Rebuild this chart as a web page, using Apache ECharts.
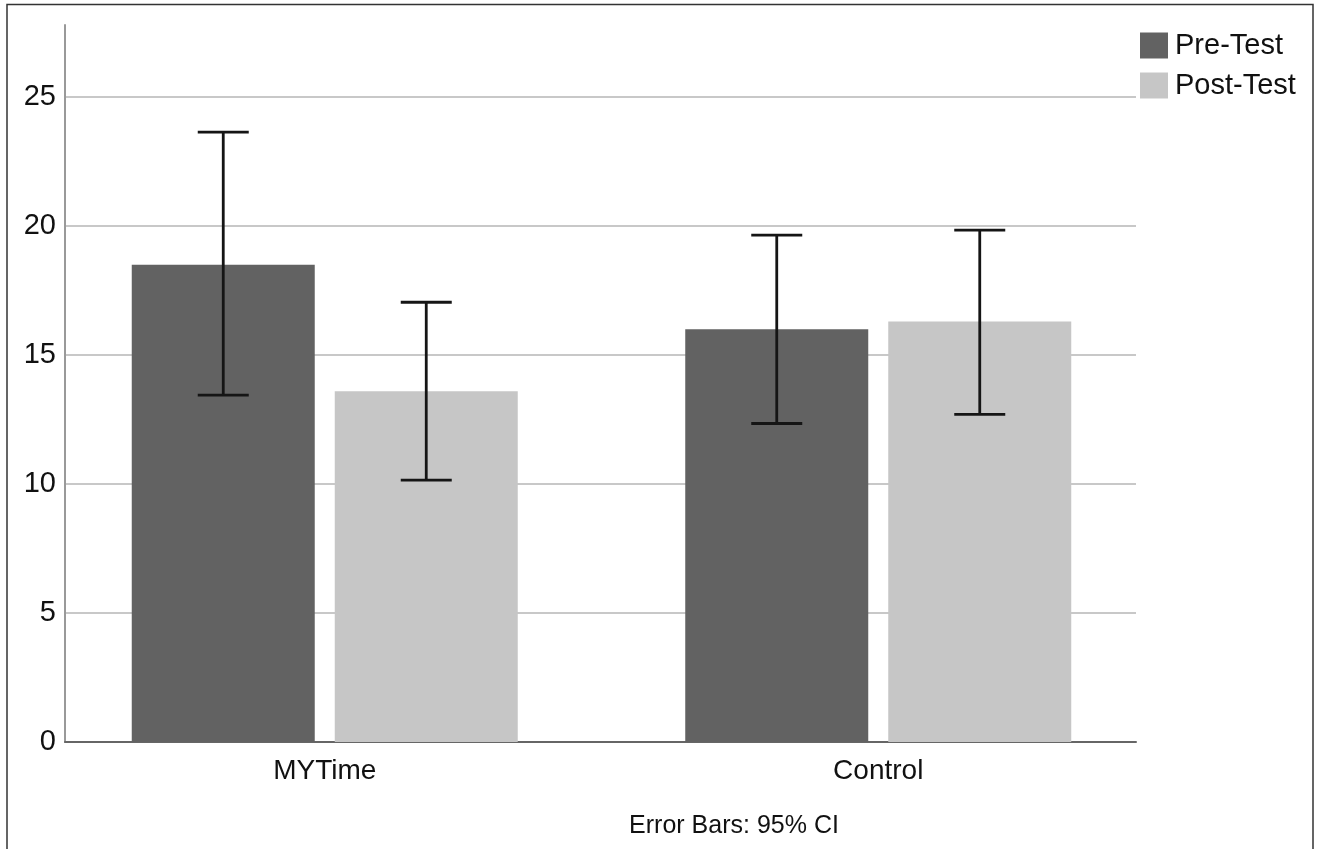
<!DOCTYPE html>
<html>
<head>
<meta charset="utf-8">
<script src="https://cdn.jsdelivr.net/npm/echarts@6/dist/echarts.min.js"></script>
<style>
  html, body { margin: 0; padding: 0; background: #ffffff; }
  #chart { width: 1317px; height: 849px; }
</style>
</head>
<body>
<div id="chart"></div>
<script>
// ---- data ----
const categories = ['MYTime', 'Control'];
const seriesNames = ['Pre-Test', 'Post-Test'];
const preMeans = [18.5, 16.0];
const postMeans = [13.6, 16.3];
const preCILow = [13.45, 12.35];
const preCIHigh = [23.65, 19.65];
const postCILow = [10.15, 12.7];
const postCIHigh = [17.05, 19.85];
const yTicks = [0, 5, 10, 15, 20, 25];
const footnote = 'Error Bars: 95% CI';

const FONT = '"Liberation Sans", Arial, sans-serif';
const YMAX = 27.8;
const BAR_W = 183;
const BAR_GAP_PX = 20;
const OFFSET = (BAR_W + BAR_GAP_PX) / 2;

function errData(lows, highs) {
  return categories.map((c, i) => [i, lows[i], highs[i]]);
}

function makeErrRender(sign) {
  return function (params, api) {
    const lo = api.coord([api.value(0), api.value(1)]);
    const hi = api.coord([api.value(0), api.value(2)]);
    const x = lo[0] + sign * OFFSET;
    const half = 25.5;
    const style = { stroke: '#151515', lineWidth: 2.8 };
    return {
      type: 'group',
      children: [
        { type: 'line', shape: { x1: x, y1: hi[1], x2: x, y2: lo[1] }, style: style },
        { type: 'line', shape: { x1: x - half, y1: hi[1], x2: x + half, y2: hi[1] }, style: style },
        { type: 'line', shape: { x1: x - half, y1: lo[1], x2: x + half, y2: lo[1] }, style: style }
      ]
    };
  };
}

const chart = echarts.init(document.getElementById('chart'), null, { renderer: 'canvas' });

chart.setOption({
  backgroundColor: '#ffffff',
  animation: false,
  grid: [
    { left: 65, right: 181, top: 25, bottom: 107 },
    { left: 48, right: 162, top: 25, bottom: 107 }
  ],
  legend: {
    orient: 'vertical',
    left: 1140,
    top: 31,
    padding: 0,
    itemWidth: 28,
    itemHeight: 26,
    itemGap: 11,
    data: seriesNames,
    icon: 'rect',
    textStyle: { fontFamily: FONT, fontSize: 29, lineHeight: 26, color: '#111', padding: [0, 0, 0, 2] }
  },
  xAxis: [
    {
      gridIndex: 0,
      type: 'category',
      data: categories,
      axisLine: { show: true, lineStyle: { color: '#666', width: 2 } },
      axisTick: { show: false },
      axisLabel: { show: false },
      splitLine: { show: false }
    },
    {
      gridIndex: 1,
      type: 'category',
      data: categories,
      axisLine: { show: false },
      axisTick: { show: false },
      axisLabel: { show: true, fontFamily: FONT, fontSize: 28, color: '#111', margin: 15 },
      splitLine: { show: false }
    }
  ],
  yAxis: [
    {
      gridIndex: 0,
      type: 'value',
      min: 0,
      max: YMAX,
      interval: 5,
      axisLine: { show: true, lineStyle: { color: '#999', width: 2 } },
      axisTick: { show: false },
      axisLabel: {
        fontFamily: FONT, fontSize: 29, color: '#111', margin: 9,
        showMaxLabel: false,
        formatter: function (v) { return yTicks.indexOf(v) >= 0 ? String(v) : ''; }
      },
      splitLine: { show: true, showMaxLine: false, showMinLine: false, lineStyle: { color: '#c8c8c8', width: 2 } }
    },
    {
      gridIndex: 1,
      type: 'value',
      min: 0,
      max: YMAX,
      interval: 5,
      show: false,
      splitLine: { show: false }
    }
  ],
  series: [
    {
      name: seriesNames[0],
      type: 'bar',
      xAxisIndex: 1,
      yAxisIndex: 1,
      data: preMeans,
      barWidth: BAR_W,
      barGap: (BAR_GAP_PX / BAR_W * 100).toFixed(2) + '%',
      itemStyle: { color: '#626262' }
    },
    {
      name: seriesNames[1],
      type: 'bar',
      xAxisIndex: 1,
      yAxisIndex: 1,
      data: postMeans,
      barWidth: BAR_W,
      barGap: (BAR_GAP_PX / BAR_W * 100).toFixed(2) + '%',
      itemStyle: { color: '#c6c6c6' }
    },
    {
      type: 'custom',
      xAxisIndex: 1,
      yAxisIndex: 1,
      data: errData(preCILow, preCIHigh),
      renderItem: makeErrRender(-1),
      z: 10,
      silent: true
    },
    {
      type: 'custom',
      xAxisIndex: 1,
      yAxisIndex: 1,
      data: errData(postCILow, postCIHigh),
      renderItem: makeErrRender(1),
      z: 10,
      silent: true
    }
  ],
  graphic: [
    {
      type: 'polyline',
      shape: { points: [[7, 860], [7, 4.5], [1313, 4.5], [1313, 860]] },
      style: { stroke: '#333', lineWidth: 1.5, fill: null },
      silent: true
    },
    {
      type: 'text',
      x: 734,
      y: 826,
      style: {
        text: footnote,
        fontFamily: FONT,
        fontSize: 25,
        fill: '#111',
        textAlign: 'center',
        textVerticalAlign: 'middle'
      },
      silent: true
    }
  ]
});
</script>
</body>
</html>
